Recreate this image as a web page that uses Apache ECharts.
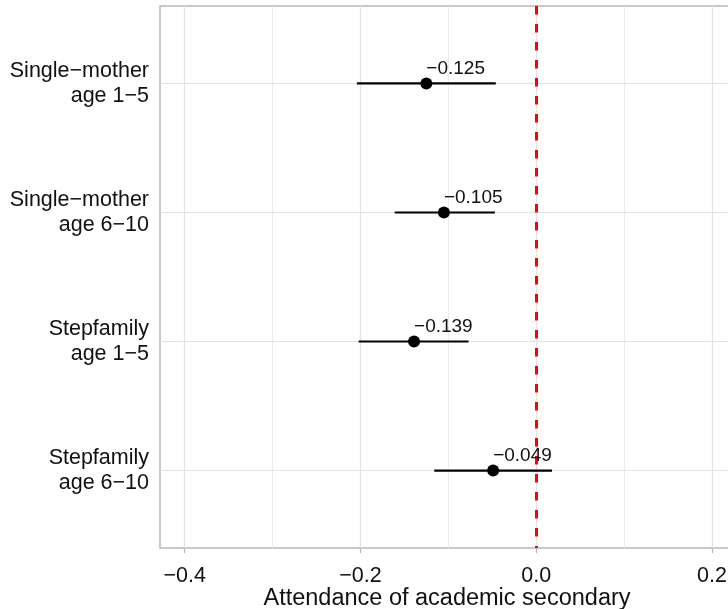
<!DOCTYPE html>
<html><head><meta charset="utf-8">
<script src="https://cdn.jsdelivr.net/npm/echarts@6/dist/echarts.min.js"></script>
<style>html,body{margin:0;padding:0;background:#fff}#c{width:728px;height:609px}</style>
</head><body><div id="c"></div>
<script>
const categories = ["Single\u2212mother\nage 1\u22125", "Single\u2212mother\nage 6\u221210", "Stepfamily\nage 1\u22125", "Stepfamily\nage 6\u221210"];
const estimates = [-0.125, -0.105, -0.139, -0.049];
const lower = [-0.204, -0.161, -0.202, -0.116];
const upper = [-0.046, -0.047, -0.077, 0.018];
const xTicks = [-0.4, -0.2, 0.0, 0.2];
const xMinor = [-0.3, -0.1, 0.1];
const refLine = 0;
const xTitle = "Attendance of academic secondary";

const rowPos = categories.map((c, i) => i + 1);
const fmt = (v, d) => (v < 0 ? '\u2212' : '') + Math.abs(v).toFixed(d);
const FONT = "'Liberation Sans', Arial, sans-serif";
const TXT = '#111111';

const chart = echarts.init(document.getElementById('c'), null, {renderer: 'canvas'});
chart.setOption({
  animation: false,
  backgroundColor: '#fff',
  textStyle: {fontFamily: FONT},
  grid: {left: 160, top: 6, bottom: 61, right: -6, outerBoundsMode: 'none', containLabel: false, show: true, borderColor: '#b8b8b8', borderWidth: 1.5, backgroundColor: '#fff'},
  xAxis: {
    type: 'value', min: -0.428, max: 0.225,
    axisLine: {show: false},
    axisTick: {show: true, customValues: xTicks, length: 5, lineStyle: {color: '#b8b8b8', width: 1.2}},
    axisLabel: {customValues: xTicks, formatter: v => fmt(v, 1), fontSize: 21.5, color: TXT, margin: 17, fontFamily: FONT},
    splitLine: {show: false},
    name: xTitle, nameLocation: 'middle', nameGap: 39, nameMoveOverlap: false,
    nameTextStyle: {fontSize: 23.5, color: TXT, fontFamily: FONT}
  },
  yAxis: {
    type: 'value', inverse: true, min: 0.4, max: 4.6,
    axisLine: {show: false},
    axisTick: {show: true, customValues: rowPos, length: 6, lineStyle: {color: '#b8b8b8', width: 1.2}},
    axisLabel: {customValues: rowPos, formatter: v => categories[Math.round(v) - 1] || '', fontSize: 21.5, lineHeight: 25, color: TXT, margin: 11, fontFamily: FONT},
    splitLine: {show: false}
  },
  series: [
    {
      type: 'custom', z: 3,
      data: rowPos.map((y, i) => [lower[i], upper[i], y]),
      encode: {x: [0, 1], y: 2},
      renderItem: (params, api) => {
        const y = api.value(2);
        const p1 = api.coord([api.value(0), y]);
        const p2 = api.coord([api.value(1), y]);
        return {type: 'line', shape: {x1: p1[0], y1: p1[1], x2: p2[0], y2: p2[1]}, style: {stroke: '#000', lineWidth: 2.2}};
      },
      markLine: {
        silent: true, symbol: 'none', z: 1, animation: false,
        label: {show: false},
        data: [
          ...xTicks.map(v => ({xAxis: v, lineStyle: {color: '#e3e3e3', width: 1.2, type: 'solid'}})),
          ...xMinor.map(v => ({xAxis: v, lineStyle: {color: '#ececec', width: 1, type: 'solid'}})),
          ...rowPos.map(v => ({yAxis: v, lineStyle: {color: '#e3e3e3', width: 1.2, type: 'solid'}}))
        ]
      }
    },
    {
      type: 'scatter', z: 5,
      data: rowPos.map((y, i) => [estimates[i], y]),
      symbol: 'circle', symbolSize: 12,
      itemStyle: {color: '#000', opacity: 1},
      label: {
        show: true, position: 'top', distance: 0, align: 'left', verticalAlign: 'bottom', offset: [0, 1],
        formatter: p => fmt(p.value[0], 3), fontSize: 19, color: TXT, fontFamily: FONT
      },
      markLine: {
        silent: true, symbol: 'none', z: 4, animation: false,
        label: {show: false},
        data: [{xAxis: refLine}],
        lineStyle: {color: '#ff0000', width: 3, type: [8.5, 9.5], opacity: 1}
      }
    }
  ]
});
</script>
</body></html>
